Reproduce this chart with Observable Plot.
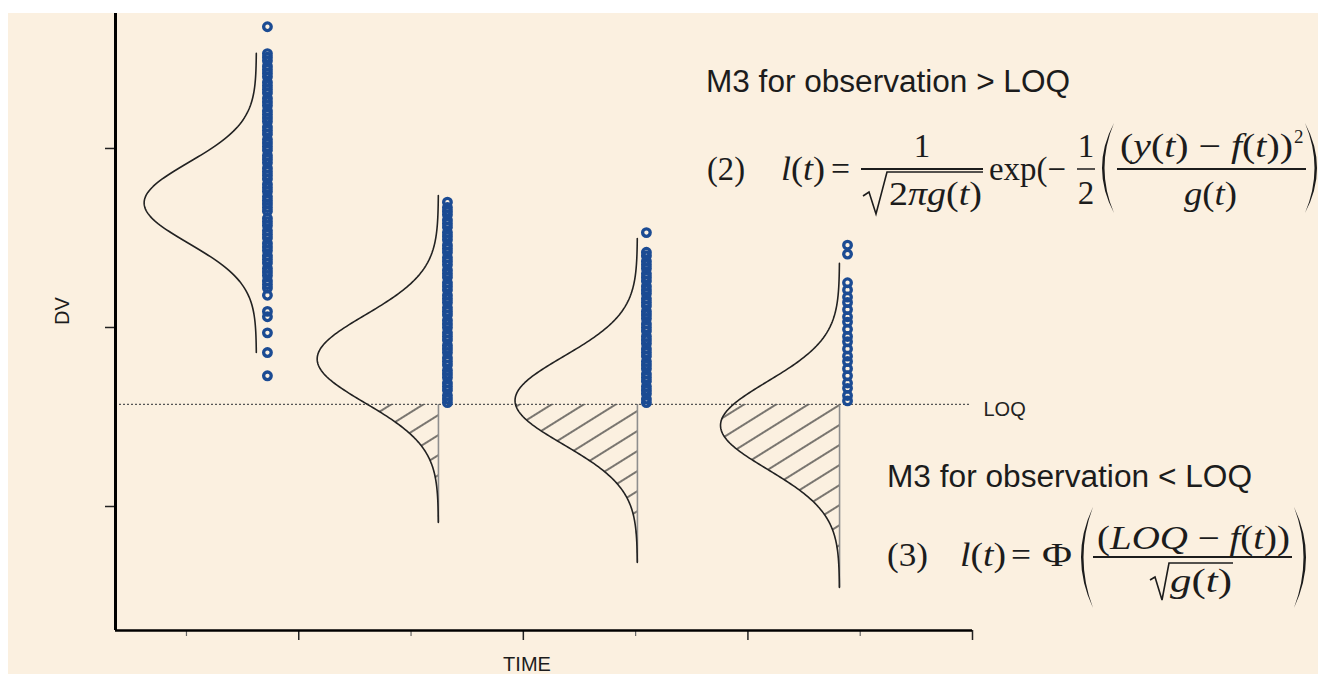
<!DOCTYPE html>
<html><head><meta charset="utf-8">
<script src="https://cdn.jsdelivr.net/npm/d3@7"></script>
<script src="https://cdn.jsdelivr.net/npm/@observablehq/plot@0.6"></script>
<style>
html,body{margin:0;padding:0;background:#fff;}
#chart{position:absolute;left:8px;top:13px;width:1310px;height:661px;background:#fbf0e0;overflow:hidden;}
</style></head><body><div id="chart"></div>
<script>
// ---------------- data ----------------
const groups = ["t1", "t2", "t3", "t4"];
const obsTime = [1.721, 3.324, 5.096, 6.887];      // TIME of the observation columns
const curveTime = [1.623, 3.244, 5.016, 6.816];    // TIME where each predicted density is anchored
const predMean = [26.96, 18.24, 15.92, 14.53];     // f(t)
const predSD = [2.25, 2.45, 2.45, 2.45];           // sqrt(g(t))
const curvePeak = [1.00, 1.08, 1.09, 1.06];        // drawn density height (TIME units)
const curveHalf = [8.35, 9.13, 9.05, 9.05];        // drawn half-extent of each density (DV units)
const LOQ = 15.7;
const obsG1 = [36.8,
  35.3, 35.1, 34.9, 34.6, 34.4, 34.2, 34.0, 33.7, 33.5, 33.3, 33.1, 32.8, 32.6, 32.4, 32.1, 31.9, 31.7, 31.5, 31.2, 31.0,
  30.8, 30.5, 30.3, 30.1, 29.9, 29.6, 29.4, 29.2, 28.9, 28.7, 28.5, 28.3, 28.0, 27.8, 27.6, 27.3, 27.1, 26.9, 26.7, 26.5,
  26.1, 25.9, 25.7, 25.4, 25.2, 25.0, 24.7, 24.5, 24.3, 24.0, 23.8, 23.6, 23.3, 23.1, 22.9, 22.6, 22.4, 22.2,
  21.8, 20.9, 20.6, 19.7, 18.6, 17.3];
const obsG2 = [27.0, 26.7, 26.5, 26.3, 26.0, 25.8, 25.6, 25.3, 25.1, 24.9, 24.6, 24.4, 24.2, 23.9, 23.7, 23.5, 23.2, 23.0,
  22.8, 22.5, 22.3, 22.1, 21.8, 21.6, 21.4, 21.1, 20.9, 20.7, 20.4, 20.2, 20.0, 19.7, 19.5, 19.3, 19.0, 18.8, 18.6, 18.3,
  18.1, 17.9, 17.6, 17.4, 17.2, 16.9, 16.7, 16.5, 16.2, 16.0, 15.8];
const obsG3 = [25.3, 24.2, 24.0, 23.7, 23.5, 23.3, 23.0, 22.8, 22.6, 22.3, 22.1, 21.9, 21.6, 21.4, 21.2, 20.9, 20.7, 20.5,
  20.2, 20.0, 19.8, 19.5, 19.3, 19.1, 18.8, 18.6, 18.4, 18.1, 17.9, 17.7, 17.4, 17.2, 17.0, 16.7, 16.5, 16.3, 16.0, 15.8];
const obsG4 = [24.6, 24.1, 22.5, 22.1, 21.7, 21.4, 21.0, 20.6, 20.3, 19.9, 19.5, 19.2, 18.8, 18.4, 18.1, 17.7, 17.3,
  16.9, 16.6, 16.2, 15.9];
const yTicks = [10, 20, 30];
const xMajorTicks = [2, 4, 6, 8];
const xMinorTicks = [1, 3, 5, 7];
const xDomain = [0.368, 8];
const yDomain = [3.073, 37.54];

// ---------------- derived tables ----------------
const obs = [obsG1, obsG2, obsG3, obsG4].flatMap((arr, i) => arr.map(v => ({g: groups[i], t: obsTime[i], v})));
const curvePts = [], hatchPts = [], belowRules = [];
groups.forEach((g, i) => {
  const m = predMean[i], s = predSD[i], h = curveHalf[i], b = curveTime[i], p = curvePeak[i];
  const dens = v => b - p * Math.exp(-0.5 * ((v - m) / s) ** 2);
  const n = 200;
  for (let k = 0; k <= n; k++) { const v = m - h + 2 * h * k / n; curvePts.push({g, v, t: dens(v)}); }
  const lo = m - h;
  if (lo < LOQ) {
    const hi = Math.min(LOQ, m + h);
    for (let k = 0; k <= n; k++) { const v = lo + (hi - lo) * k / n; hatchPts.push({g, v, t: dens(v), base: b}); }
    belowRules.push({g, t: b, y1: LOQ, y2: lo});
  }
});

const SANS = "'Liberation Sans', Arial, Helvetica, sans-serif";
const SERIF = "'Liberation Serif', 'Times New Roman', Times, serif";
const INK = "#1c1c1c";

const svg = Plot.plot({
  width: 1310, height: 661,
  marginLeft: 107, marginRight: 346, marginTop: 0, marginBottom: 44,
  x: {domain: xDomain},
  y: {domain: yDomain},
  style: {background: "transparent", fontFamily: SANS, color: INK},
  marks: [
    Plot.areaX(hatchPts, {y: "v", x1: "t", x2: "base", z: "g", fill: "url(#hatch)"}),
    Plot.ruleX(belowRules, {x: "t", y1: "y1", y2: "y2", stroke: "#8e8e8e", strokeWidth: 1.6}),
    Plot.ruleY([LOQ], {x1: xDomain[0], x2: 7.98, stroke: "#555", strokeWidth: 1.2, strokeDasharray: "2,2"}),
    Plot.line(curvePts, {x: "t", y: "v", z: "g", stroke: "#222", strokeWidth: 1.6}),
    Plot.dot(obs, {x: "t", y: "v", r: 3.8, stroke: "#1b4b93", strokeWidth: 3.3, fill: "none"}),
    Plot.axisY({ticks: yTicks, tickSize: 10, tickFormat: () => "", label: null, stroke: "#222", strokeWidth: 1.5}),
    Plot.axisX({ticks: xMajorTicks, tickSize: 10, tickFormat: () => "", label: null, stroke: "#222", strokeWidth: 1.5}),
    Plot.axisX({ticks: xMinorTicks, tickSize: 6, tickFormat: () => "", label: null, stroke: "#666", strokeWidth: 1.2}),
    Plot.ruleX([xDomain[0]], {stroke: "#000", strokeWidth: 3}),
    Plot.ruleY([yDomain[0]], {stroke: "#000", strokeWidth: 2.5}),
    Plot.text([LOQ], {y: d => d, text: () => "LOQ", frameAnchor: "right", dx: 11, dy: 5, textAnchor: "start", fontSize: 20, fill: "#222"}),
    Plot.text(["DV"], {frameAnchor: "left", dx: -53, dy: 3, rotate: -90, fontSize: 20, fill: INK}),
    Plot.text(["TIME"], {frameAnchor: "bottom", dx: -17, dy: 26, lineAnchor: "top", fontSize: 20, fill: INK})
  ]
});

// hatch pattern
const NS = "http://www.w3.org/2000/svg";
function add(parent, tag, attrs, text) {
  const e = document.createElementNS(NS, tag);
  for (const k in attrs) e.setAttribute(k, attrs[k]);
  if (text != null) e.textContent = text;
  parent.appendChild(e);
  return e;
}
const defs = add(svg, "defs", {});
svg.insertBefore(defs, svg.firstChild);
const pat = add(defs, "pattern", {id: "hatch", patternUnits: "userSpaceOnUse", width: 12, height: 17, patternTransform: "rotate(-32)"});
add(pat, "line", {x1: -1, y1: 8, x2: 13, y2: 8, stroke: "#333", "stroke-width": 1.3});

// ---------------- annotations (page coordinates) ----------------
const g = add(svg, "g", {transform: "translate(-8,-13)", "text-anchor": "start"});
const MATH = 33;
function mtext(x, y, parts, opt = {}) {
  const t = add(g, "text", {x, y, "font-family": SERIF, "font-size": opt.size || MATH, fill: INK, "text-anchor": opt.anchor || "start"});
  if (opt.len) { t.setAttribute("textLength", opt.len); t.setAttribute("lengthAdjust", "spacingAndGlyphs"); }
  for (const [s, it] of parts) add(t, "tspan", it ? {"font-style": "italic"} : {}, s);
  return t;
}
function bar(x1, x2, y, w = 1.8) { add(g, "line", {x1, x2, y1: y, y2: y, stroke: INK, "stroke-width": w}); }
function path(d, fill) { add(g, "path", fill ? {d, fill: INK} : {d, fill: "none", stroke: INK, "stroke-width": 1.6, "stroke-linejoin": "miter"}); }

add(g, "text", {x: 706, y: 92, "font-family": SANS, "font-size": 31, fill: INK, "text-anchor": "start", textLength: 364, lengthAdjust: "spacingAndGlyphs"}, "M3 for observation > LOQ");
add(g, "text", {x: 887, y: 487, "font-family": SANS, "font-size": 31, fill: INK, "text-anchor": "start", textLength: 365, lengthAdjust: "spacingAndGlyphs"}, "M3 for observation < LOQ");

// (2)
mtext(707, 180, [["(2)"]], {len: 38});
mtext(781, 180, [["l", true], ["("], ["t", true], [")"]], {len: 44});
mtext(831, 180, [["="]], {len: 19});
bar(861, 983, 169);
mtext(922, 157, [["1"]], {anchor: "middle"});
path("M863,196 L869,192 L876,214 L887,172 L983,172");
mtext(889, 205, [["2"], ["π", true], ["g", true], ["("], ["t", true], [")"]], {len: 93});
mtext(989, 180, [["exp(−"]], {len: 77});
bar(1077, 1095, 169, 1.5);
mtext(1086, 157, [["1"]], {anchor: "middle"});
mtext(1086, 204, [["2"]], {anchor: "middle"});
path("M1114,123 Q1090,168 1114,213 Q1095,168 1114,123 Z", true);
mtext(1120, 157, [["("], ["y", true], ["("], ["t", true], [")"], [" − "], ["f", true], ["("], ["t", true], ["))"]], {len: 173});
mtext(1294, 143, [["2"]], {size: 19});
bar(1117, 1306, 169);
mtext(1184, 205, [["g", true], ["("], ["t", true], [")"]], {len: 53});
path("M1305,123 Q1329,168 1305,213 Q1324,168 1305,123 Z", true);

// (3)
mtext(887, 566, [["(3)"]], {len: 41});
mtext(960, 566, [["l", true], ["("], ["t", true], [")"]], {len: 46});
mtext(1011, 566, [["="]], {len: 20});
mtext(1042, 566, [["Φ"]], {len: 30});
path("M1093,507 Q1069,557 1093,608 Q1074,557 1093,507 Z", true);
mtext(1097, 549, [["("], ["LOQ", true], [" − "], ["f", true], ["("], ["t", true], ["))"]], {len: 193});
bar(1093, 1292, 557);
path("M1150,580 L1155,577 L1162,600 L1169,563 L1233,563");
mtext(1170, 592, [["g", true], ["("], ["t", true], [")"]], {len: 62});
path("M1294,507 Q1318,557 1294,608 Q1313,557 1294,507 Z", true);

document.getElementById("chart").appendChild(svg);
</script></body></html>
